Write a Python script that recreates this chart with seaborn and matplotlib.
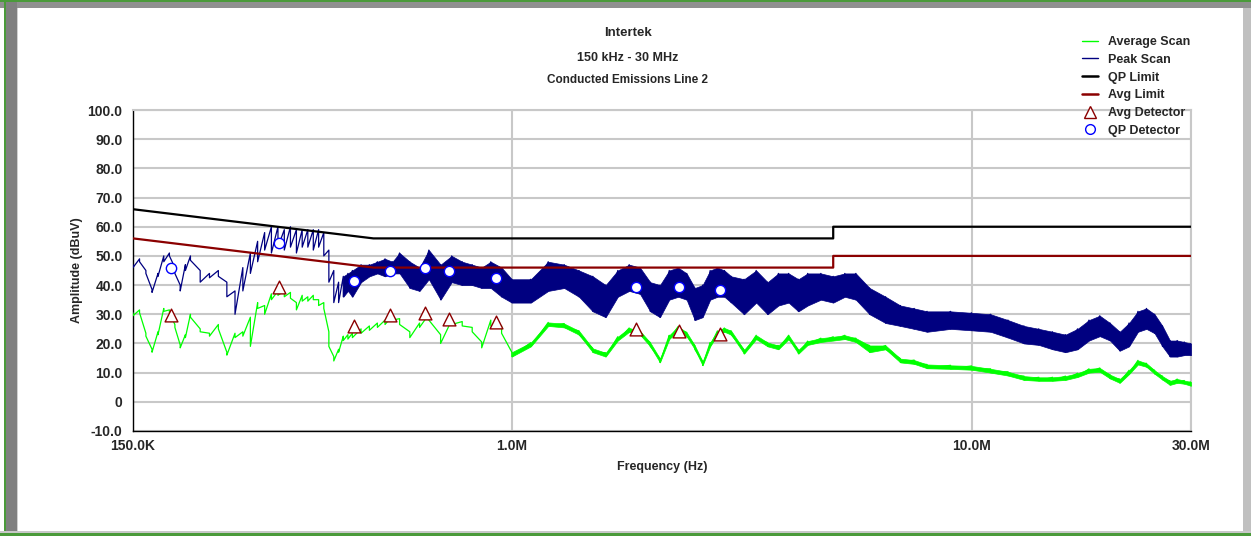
import matplotlib
matplotlib.use("Agg")
import matplotlib.pyplot as plt
import seaborn as sns
import pandas as pd
from matplotlib.lines import Line2D
from matplotlib.patches import Rectangle
from matplotlib.ticker import MultipleLocator, LogLocator, NullFormatter

# ---------------- data ----------------
freq_mhz = [0.150, 0.155, 0.160, 0.165, 0.170, 0.175, 0.180, 0.185, 0.190, 0.195, 0.200,
            0.21, 0.22, 0.23, 0.24, 0.25, 0.26, 0.27, 0.28, 0.29, 0.30, 0.31, 0.32, 0.33,
            0.34, 0.35, 0.36, 0.37, 0.38, 0.39, 0.40, 0.41, 0.42, 0.43, 0.44, 0.45,
            0.47, 0.49, 0.51, 0.53, 0.55, 0.57, 0.60, 0.63, 0.66, 0.70, 0.74, 0.78, 0.82,
            0.86, 0.90, 0.95, 1.0, 1.1, 1.2, 1.3, 1.4, 1.5, 1.6, 1.7, 1.8, 1.9, 2.0, 2.1,
            2.2, 2.3, 2.4, 2.5, 2.6, 2.7, 2.8, 2.9, 3.0, 3.2, 3.4, 3.6, 3.8, 4.0, 4.2,
            4.4, 4.7, 5.0, 5.3, 5.6, 6.0, 6.5, 7.0, 7.5, 8.0, 9.0, 10, 11, 12, 13, 14,
            15, 16, 17, 18, 19, 20, 21, 22, 23, 24, 25, 26, 27, 28, 29, 30]

# peak scan: upper / lower edge of the trace at each frequency (dBuV)
peak_hi = [47, 49, 45, 38.5, 44, 50, 51, 46, 40, 47, 50,
           45, 44, 45, 41, 38, 46, 51, 55, 58, 60, 60, 59, 60,
           59, 59, 59, 59, 59, 58, 52, 45, 41, 43, 44, 45,
           47, 47, 48, 49, 48, 51, 48, 46, 52, 47, 50, 48, 47,
           46, 48, 46, 42, 42, 48, 47, 45, 43, 40, 45, 47, 46, 41, 40,
           45, 46, 44, 39, 40, 45, 46, 45, 43, 42, 45, 41, 44, 44, 42,
           44, 44, 43, 44, 44, 39, 36, 33, 32, 31, 31, 30.5, 30, 28, 26, 25,
           24, 23, 25, 28, 29.5, 27, 24, 27, 31, 32, 30, 26, 21, 21, 20.5, 20]
peak_lo = [46, 48, 44, 37.5, 43, 48, 50, 44, 38, 45, 48.5,
           41, 42.5, 43, 36, 30, 38, 44, 48, 52, 51, 53, 52, 53,
           51, 53, 53, 52, 53, 50, 41, 34, 34, 36, 38, 36,
           41, 43, 44, 43, 44, 44, 39, 38, 42, 35, 41, 40, 40,
           39, 39, 36, 34, 34, 38, 39, 36, 31, 29, 36, 38, 37, 31, 29,
           35, 36, 35, 28, 29, 35, 36, 36, 34, 30, 34, 30, 33, 34, 31,
           33, 35, 34, 36, 35, 30, 27, 26, 25, 24, 25, 24.5, 24, 22, 20, 19.5,
           18, 17, 18, 21, 22.5, 21, 17.5, 19, 24, 25, 23.5, 19, 15.5, 15.5, 16, 16]

# average scan: upper / lower edge (dBuV)
avg_hi = [30.5, 31.5, 23.5, 18, 24, 32, 31.5, 26.5, 19.5, 23, 30,
          25, 23.5, 26.5, 17, 23.5, 24, 29, 34, 33, 37, 38, 38, 37.5,
          34, 36.5, 36, 36.5, 35, 34, 24, 15.5, 18, 22.5, 23, 23.5,
          25, 26, 27, 28, 29.5, 28.5, 24, 27, 30, 23, 28, 27.5, 25.5,
          20.5, 28, 26, 17, 20.3, 27.2, 26.8, 24.3, 18.3, 16.8, 22.3, 25.3, 24.3, 20.3, 14.8,
          22.8, 25.8, 23.8, 19.3, 13.8, 20.3, 24.3, 25.3, 24.3, 17.8, 22.8, 20.3, 19.3, 22.8, 17.8,
          20.8, 21.8, 22.3, 22.8, 21.8, 19.3, 19.3, 14.8, 14.3, 12.8, 12.5, 12.3, 11.3, 10.3, 8.8, 8.4,
          8.4, 8.8, 9.8, 11.3, 11.6, 9.3, 7.8, 10.8, 14.2, 13.2, 10.8, 8.8, 7.2, 7.8, 7.3, 6.8]
avg_lo = [29.5, 30.5, 22.5, 17, 23, 31, 30.5, 25.5, 18.5, 22, 29,
          24, 22.5, 25, 16, 22, 22.5, 19, 32, 30, 35, 36.5, 36, 35.5,
          31.5, 34.5, 34.5, 35, 33, 32, 19, 14, 17, 21, 21.5, 22,
          23.5, 24.5, 25.5, 26.5, 28, 26.5, 22, 25.5, 28, 20, 26.5, 26, 24,
          18.5, 26, 23.5, 15.5, 19, 26, 25.5, 23, 17, 15.5, 21, 24, 23, 19, 13.5,
          21.5, 24.5, 22.5, 18, 12.5, 19, 23, 24, 23, 16.5, 21.5, 19, 18, 21.5, 16.5,
          19.5, 20.5, 21, 21.5, 20.5, 17, 18, 13.5, 13, 11.5, 11.3, 11, 10, 9, 7.5, 7.2,
          7.2, 7.5, 8.5, 10, 10.3, 8, 6.5, 9.5, 12.8, 12, 9.6, 7.6, 5.8, 6.5, 6.2, 5.5]

limit_freq = [0.15, 0.5, 5.0, 5.0, 30.0]
qp_limit = [66, 56, 56, 60, 60]
avg_limit = [56, 46, 46, 50, 50]

det_freq = [0.181, 0.312, 0.453, 0.543, 0.647, 0.730, 0.923, 1.86, 2.31, 2.83]
qp_det = [45.7, 54.3, 41.3, 44.7, 45.7, 44.7, 42.3, 39.2, 39.2, 38.2]
avg_det = [29.6, 39.2, 26.1, 29.6, 30.3, 28.5, 27.2, 24.8, 24.4, 23.4]

y_ticks = [100, 90, 80, 70, 60, 50, 40, 30, 20, 10, 0, -10]
y_tick_labels = ["100.0", "90.0", "80.0", "70.0", "60.0", "50.0", "40.0", "30.0",
                 "20.0", "10.0", "0", "-10.0"]
x_ticks = [0.15, 1, 10, 30]
x_tick_labels = ["150.0K", "1.0M", "10.0M", "30.0M"]

# ---------------- styling ----------------
sns.set_theme(style="white")
plt.rcParams["font.family"] = ["Liberation Sans", "DejaVu Sans"]
plt.rcParams["font.weight"] = "bold"

GREEN = "#00ff00"
NAVY = "#000080"
MAROON = "#8b0000"
GRID = "#c8c8c8"

W, H = 1251, 536
fig = plt.figure(figsize=(W / 100, H / 100), dpi=100)
fig.patch.set_facecolor("white")
ax = fig.add_axes([133 / W, 1 - 431 / H, (1191 - 133) / W, (431 - 110) / H])

# ---------------- traces ----------------
# each sweep runs through the upper then lower edge at every frequency (saw-tooth);
# the dense part of each sweep is also filled between the edges
scan = pd.DataFrame({
    "freq": [f for f in freq_mhz for _ in (0, 1)],
    "peak": [v for pair in zip(peak_hi, peak_lo) for v in pair],
    "avg": [v for pair in zip(avg_hi, avg_lo) for v in pair],
})
peak_dense = [f >= 0.43 for f in freq_mhz]
avg_dense = [f >= 1.0 for f in freq_mhz]

ax.fill_between(freq_mhz, peak_lo, peak_hi, where=peak_dense, interpolate=False,
                color=NAVY, linewidth=0.5, zorder=3)
sns.lineplot(data=scan, x="freq", y="peak", ax=ax, color=NAVY, linewidth=0.9,
             estimator=None, sort=False, zorder=3)
ax.fill_between(freq_mhz, avg_lo, avg_hi, where=avg_dense, interpolate=False,
                color=GREEN, linewidth=0.5, zorder=3)
sns.lineplot(data=scan, x="freq", y="avg", ax=ax, color=GREEN, linewidth=0.9,
             estimator=None, sort=False, zorder=3)

lim = pd.DataFrame({"freq": limit_freq, "qp": qp_limit, "avg": avg_limit})
sns.lineplot(data=lim, x="freq", y="qp", ax=ax, color="black", linewidth=1.6,
             estimator=None, sort=False, zorder=4)
sns.lineplot(data=lim, x="freq", y="avg", ax=ax, color=MAROON, linewidth=1.6,
             estimator=None, sort=False, zorder=4)

det = pd.DataFrame({"freq": det_freq, "qp": qp_det, "avg": avg_det})
sns.scatterplot(data=det, x="freq", y="avg", ax=ax, marker="^", s=85,
                facecolor="white", edgecolor=MAROON, linewidth=1.0, zorder=5)
sns.scatterplot(data=det, x="freq", y="qp", ax=ax, marker="o", s=55,
                facecolor="white", edgecolor="#0000ff", linewidth=1.0, zorder=5)

# ---------------- axes ----------------
ax.set_xscale("log")
ax.set_xlim(0.15, 30)
ax.set_ylim(-10, 100)
ax.set_yticks(y_ticks)
ax.set_yticklabels(y_tick_labels)
ax.yaxis.set_minor_locator(MultipleLocator(2))
ax.set_xticks(x_ticks)
ax.set_xticklabels(x_tick_labels)
ax.xaxis.set_minor_locator(LogLocator(base=10, subs=range(2, 10)))
ax.xaxis.set_minor_formatter(NullFormatter())

ax.grid(True, which="major", color=GRID, linewidth=1.5, zorder=0)
ax.set_axisbelow(True)
for side in ["top", "right"]:
    ax.spines[side].set_color(GRID)
    ax.spines[side].set_linewidth(1.5)
for side in ["left", "bottom"]:
    ax.spines[side].set_color("black")
    ax.spines[side].set_linewidth(1.0)

ax.tick_params(axis="both", which="major", direction="inout", length=7, width=1,
               color="black", labelsize=10)
ax.tick_params(axis="both", which="minor", direction="inout", length=5, width=1,
               color="black")
ax.tick_params(axis="y", which="both", right=False, pad=4)
ax.tick_params(axis="x", which="both", top=False, pad=2)

ax.set_xlabel("Frequency (Hz)", fontsize=9, fontweight="bold", labelpad=6)
ax.set_ylabel("Amplitude (dBuV)", fontsize=9, fontweight="bold", labelpad=3)

# ---------------- titles ----------------
fig.text(628 / W, 1 - 33 / H, "Intertek", ha="center", va="center",
         fontsize=9.5, fontweight="bold")
fig.text(628 / W, 1 - 58 / H, "150 kHz - 30 MHz", ha="center", va="center",
         fontsize=9, fontweight="bold")
fig.text(628 / W, 1 - 80 / H, "Conducted Emissions Line 2", ha="center", va="center",
         fontsize=8.5, fontweight="bold")

# ---------------- legend ----------------
handles = [
    Line2D([], [], color=GREEN, linewidth=1.0),
    Line2D([], [], color=NAVY, linewidth=1.0),
    Line2D([], [], color="black", linewidth=1.8),
    Line2D([], [], color=MAROON, linewidth=1.8),
    Line2D([], [], linestyle="none", marker="^", markersize=9,
           markerfacecolor="white", markeredgecolor=MAROON),
    Line2D([], [], linestyle="none", marker="o", markersize=7,
           markerfacecolor="white", markeredgecolor="#0000ff"),
]
labels = ["Average Scan", "Peak Scan", "QP Limit", "Avg Limit", "Avg Detector", "QP Detector"]
fig.legend(handles, labels, loc="upper left", bbox_to_anchor=(1077 / W, 1 - 31 / H),
           frameon=False, handlelength=1.3, handletextpad=0.8, labelspacing=0.46,
           borderaxespad=0, prop={"size": 9, "weight": "bold"})

# ---------------- outer frame ----------------
def frame_rect(x0, y0, x1, y1, color):
    fig.patches.append(Rectangle((x0 / W, 1 - y1 / H), (x1 - x0) / W, (y1 - y0) / H,
                                 transform=fig.transFigure, color=color, zorder=0,
                                 linewidth=0))

frame_rect(0, 0, W, 2, "#4a9a3a")
frame_rect(0, 2, W, 8, "#909090")
frame_rect(4, 0, 6, H, "#4a9a3a")
frame_rect(6, 2, 17, 533, "#808080")
frame_rect(17, 8, 18, 533, "#d0d0d0")
frame_rect(1243, 8, W, 533, "#c0c0c0")
frame_rect(0, 531, W, 533, "#c8c8c8")
frame_rect(0, 533, W, H, "#4a9a3a")

fig.savefig("out.png", dpi=100)
